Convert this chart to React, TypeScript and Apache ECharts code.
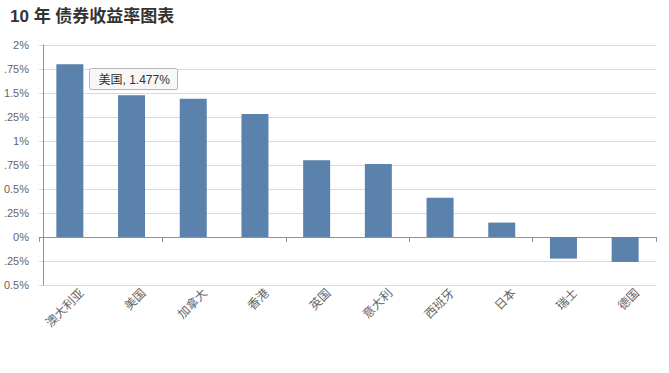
import React, { useEffect, useRef } from "react";
import * as echarts from "echarts";

const titleText = "10 年 债券收益率图表";
const categories = ["澳大利亚", "美国", "加拿大", "香港", "英国", "意大利", "西班牙", "日本", "瑞士", "德国"];
const yields = [1.8, 1.477, 1.44, 1.28, 0.8, 0.76, 0.41, 0.15, -0.225, -0.26];
const highlightIndex = 1;

const FONT = "'Liberation Sans', Arial, 'Noto Sans CJK SC', sans-serif";

export default function App() {
  const ref = useRef<HTMLDivElement>(null);
  useEffect(() => {
    if (!ref.current) return;
    const chart = echarts.init(ref.current, null, { renderer: "svg" });
    const axisColor = "#7d98a8";
    chart.setOption({
      animation: false,
      backgroundColor: "#ffffff",
      title: {
        text: titleText,
        left: 5,
        top: 3,
        textStyle: { fontFamily: FONT, fontSize: 17, fontWeight: "bold", color: "#333333" },
      },
      grid: { left: 39, right: 13, top: 45, bottom: 88, containLabel: false, outerBoundsMode: "none" },
      xAxis: {
        type: "category",
        data: categories,
        axisLine: { show: true, lineStyle: { color: axisColor, width: 1 } },
        axisTick: { show: true, length: 5, lineStyle: { color: axisColor } },
        axisLabel: { show: false },
        splitLine: { show: false },
      },
      yAxis: {
        type: "value",
        min: -0.5,
        max: 2,
        interval: 0.25,
        offset: -4,
        axisLine: { show: true, lineStyle: { color: axisColor, width: 1 } },
        axisTick: { show: false },
        axisLabel: {
          margin: 14,
          color: "#666666",
          fontSize: 11,
          fontFamily: FONT,
          formatter: (v: number) => `${v}%`,
        },
        splitLine: { show: true, lineStyle: { color: "#dadada", width: 1 } },
      },
      series: [
        {
          type: "bar",
          data: yields,
          barWidth: 27,
          itemStyle: { color: "#5b81ad" },
        },
      ],
    });
    const graphics: any[] = [];
    const axisY = chart.convertToPixel({ yAxisIndex: 0 }, -0.5) as number;
    categories.forEach((c, i) => {
      const cx = chart.convertToPixel({ xAxisIndex: 0 }, i) as number;
      graphics.push({
        type: "text",
        x: cx + 12,
        y: axisY + 6,
        rotation: Math.PI / 4,
        style: {
          text: c,
          fontFamily: FONT,
          fontSize: 12,
          fill: "#666666",
          align: "right",
          verticalAlign: "middle",
        },
      });
    });
    const p = chart.convertToPixel({ seriesIndex: 0 }, [highlightIndex, yields[highlightIndex]]) as number[];
    if (p) {
      const bx = Math.round(p[0] - 43) + 0.5;
      const by = Math.round(p[1] - 27) + 0.5;
      graphics.push({
        type: "group",
        z: 100,
        children: [
          {
            type: "rect",
            shape: { x: bx + 1, y: by + 1, width: 88, height: 21, r: 2 },
            style: { fill: "rgba(0,0,0,0.06)" },
          },
          {
            type: "rect",
            shape: { x: bx, y: by, width: 88, height: 21, r: 2 },
            style: { fill: "#f7f7f7", stroke: "#b8b8b8", lineWidth: 1 },
          },
          {
            type: "text",
            x: bx + 9,
            y: by + 11,
            style: {
              text: `${categories[highlightIndex]}, ${yields[highlightIndex]}%`,
              fontFamily: FONT,
              fontSize: 12,
              fill: "#333333",
              verticalAlign: "middle",
              align: "left",
            },
          },
        ],
      });
    }
    chart.setOption({ graphic: graphics });
    return () => chart.dispose();
  }, []);
  return (
    <div style={{ position: "fixed", left: 0, top: 0, width: 669, height: 373, background: "#fff" }}>
      <div style={{ position: "absolute", left: 4, top: 0, width: 665, height: 373, overflow: "hidden" }}>
        <div ref={ref} style={{ position: "absolute", left: -4, top: 0, width: 669, height: 373 }} />
      </div>
    </div>
  );
}
